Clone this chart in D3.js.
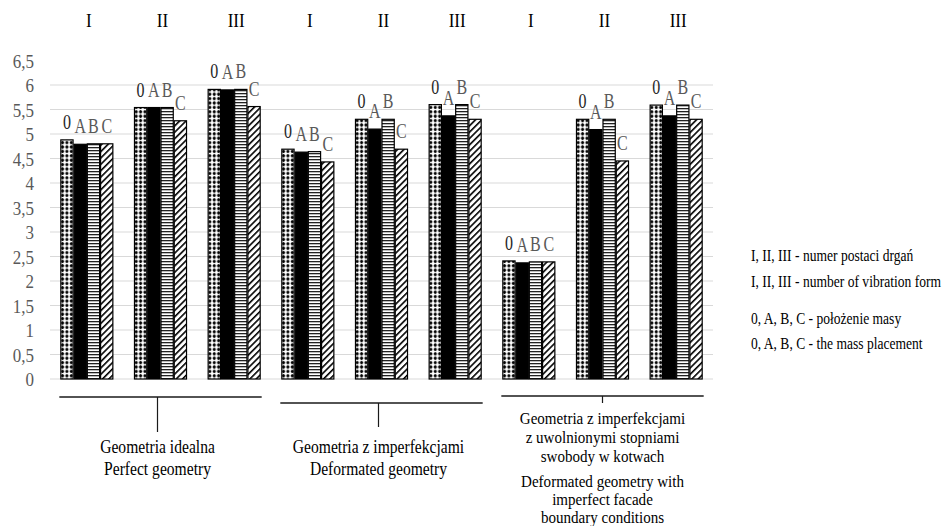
<!DOCTYPE html>
<html><head><meta charset="utf-8">
<script src="https://cdn.jsdelivr.net/npm/d3@7"></script>
<style>
html,body{margin:0;padding:0;background:#fff;}
svg{display:block;}
svg text{font-family:"Liberation Serif","Times New Roman",Times,"DejaVu Serif",serif !important;}
</style></head>
<body><svg id="chart" width="946" height="526"></svg>
<script>
// ---- data ----
const categories = ["I","II","III","I","II","III","I","II","III"];
const seriesNames = ["0","A","B","C"];
const values0 = [4.88, 5.54, 5.91, 4.69, 5.30, 5.60, 2.41, 5.30, 5.59];
const valuesA = [4.79, 5.54, 5.90, 4.63, 5.10, 5.37, 2.37, 5.09, 5.37];
const valuesB = [4.80, 5.54, 5.91, 4.64, 5.30, 5.60, 2.39, 5.30, 5.59];
const valuesC = [4.80, 5.27, 5.56, 4.43, 4.69, 5.30, 2.39, 4.45, 5.30];
const yTicks = [0,0.5,1,1.5,2,2.5,3,3.5,4,4.5,5,5.5,6,6.5];
const groupLabels = [
  ["Geometria idealna","Perfect geometry"],
  ["Geometria z imperfekcjami","Deformated geometry"],
  ["Geometria z imperfekcjami","z uwolnionymi stopniami","swobody w kotwach","Deformated geometry with","imperfect facade","boundary conditions"]
];
const legendLines = ["I, II, III - numer postaci drgań","I, II, III - number of vibration form","0, A, B, C - położenie masy","0, A, B, C - the mass placement"];

const seriesValues = [values0, valuesA, valuesB, valuesC];

const svg = d3.select("#chart");
const defs = svg.append("defs");

// patterns
const p0 = defs.append("pattern").attr("id","pat0").attr("patternUnits","userSpaceOnUse").attr("width",4.4).attr("height",4.4);
p0.append("rect").attr("width",4.4).attr("height",4.4).attr("fill","#fff");
p0.append("path").attr("d","M1.6,0.6h1.2v0.6h0.6v1.2h-0.6v0.6h-1.2v-0.6h-0.6v-1.2h0.6z").attr("fill","#000").attr("stroke","#000").attr("stroke-width",0.8);
const pB = defs.append("pattern").attr("id","patB").attr("patternUnits","userSpaceOnUse").attr("width",4).attr("height",3);
pB.append("rect").attr("width",4).attr("height",3).attr("fill","#fff");
pB.append("rect").attr("y",0).attr("width",4).attr("height",1.3).attr("fill","#222");
const pC = defs.append("pattern").attr("id","patC").attr("patternUnits","userSpaceOnUse").attr("width",4.5).attr("height",4.5).attr("patternTransform","rotate(45)");
pC.append("rect").attr("width",4.5).attr("height",4.5).attr("fill","#fff");
pC.append("rect").attr("x",0).attr("width",1.6).attr("height",4.5).attr("fill","#000");
const fills = ["url(#pat0)","#000","url(#patB)","url(#patC)"];

// horizontal compression of the reference lettering
const sx = 0.8;

// scales
const x0 = d3.scaleBand().domain(d3.range(categories.length)).range([50,713]).paddingInner(0.28).paddingOuter(0.14);
const x1 = d3.scaleBand().domain(seriesNames).range([0,x0.bandwidth()]);
const y = d3.scaleLinear().domain([0,6.5]).range([379,60.5]);

// gridlines
svg.append("g").selectAll("line").data(yTicks.filter(t=>t>0 && t<6.5)).join("line")
  .attr("x1",50).attr("x2",713).attr("y1",d=>y(d)).attr("y2",d=>y(d))
  .attr("stroke","#d9d9d9").attr("stroke-width",1);
svg.append("line").attr("x1",50).attr("x2",713).attr("y1",y(0)).attr("y2",y(0)).attr("stroke","#d9d9d9");

// y axis
const yAxis = d3.axisLeft(y).tickValues(yTicks).tickSize(0).tickPadding(0).tickFormat(d=>d3.format("")(d).replace(".",","));
const ya = svg.append("g").attr("transform","translate(34,1)").call(yAxis);
ya.select(".domain").remove();
ya.selectAll("text").attr("font-size",18.5).attr("fill","#595959").attr("dy","0.32em").attr("x",0)
  .attr("transform","scale(0.92,1)");

// bars
const cat = svg.append("g").selectAll("g").data(categories).join("g")
  .attr("transform",(d,i)=>`translate(${x0(i)},0)`);
cat.selectAll("rect").data((d,i)=>seriesNames.map((s,j)=>({s,j,v:seriesValues[j][i]}))).join("rect")
  .attr("x",d=>x1(d.s)+0.5).attr("width",x1.bandwidth()-1)
  .attr("y",d=>y(d.v)).attr("height",d=>y(0)-y(d.v))
  .attr("fill",d=>fills[d.j]).attr("stroke","#000").attr("stroke-width",1.2);
cat.selectAll("text.lbl").data((d,i)=>seriesNames.map((s,j)=>({s,j,v:seriesValues[j][i]}))).join("text")
  .attr("class","lbl")
  .attr("transform",d=>`translate(${x1(d.s)+x1.bandwidth()/2},${y(d.v)-11}) scale(${sx},1)`)
  .attr("text-anchor","middle").attr("font-size",20)
  .attr("fill",d=>d.j===0?"#262626":"#595959").text(d=>d.s);

// roman numerals at top
svg.append("g").selectAll("text").data(categories).join("text")
  .attr("transform",(d,i)=>`translate(${x0(i)+x0.bandwidth()/2+2},27) scale(0.9,1)`)
  .attr("text-anchor","middle").attr("font-size",19).attr("fill","#000").text(d=>d);

// group brackets
const lineY = [397,403,396];
const tickEnd = [432,427,403];
const textY = [[453,475],[453,475],[424,443,462,487,505,523]];
const dx = [-3,-3,0];
const gFont = [19.5,19.5,17];
const gScale = [sx,sx,0.885];
groupLabels.forEach((lines,g)=>{
  const xs = x0(g*3), xe = x0(g*3+2)+x0.bandwidth();
  const cx = (xs+xe)/2 + dx[g];
  svg.append("line").attr("x1",xs-1).attr("x2",xe+1).attr("y1",lineY[g]).attr("y2",lineY[g]).attr("stroke","#1a1a1a").attr("stroke-width",1.6);
  svg.append("line").attr("x1",cx).attr("x2",cx).attr("y1",lineY[g]).attr("y2",tickEnd[g]).attr("stroke","#1a1a1a").attr("stroke-width",1.2);
  svg.append("g").selectAll("text").data(lines).join("text")
    .attr("transform",(d,k)=>`translate(${cx},${textY[g][k]}) scale(${gScale[g]},1)`).attr("text-anchor","middle")
    .attr("font-size",gFont[g]).attr("fill","#000").text(d=>d);
});

// legend text
const legY = [261,287,324,349];
svg.append("g").selectAll("text").data(legendLines).join("text")
  .attr("transform",(d,i)=>`translate(751,${legY[i]}) scale(0.775,1)`)
  .attr("font-size",17.5).attr("fill","#000").text(d=>d);
</script></body></html>
